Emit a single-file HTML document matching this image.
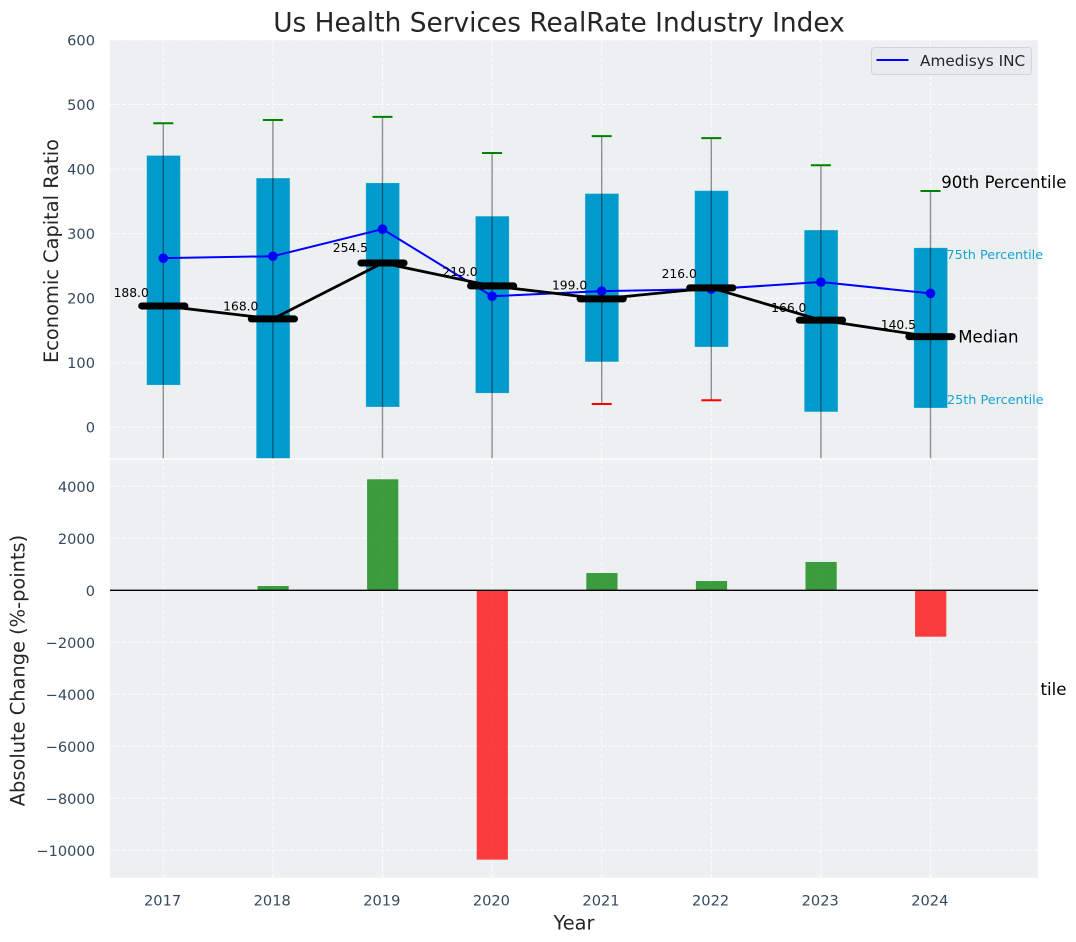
<!DOCTYPE html>
<html lang="en">
<head>
<meta charset="utf-8">
<title>Us Health Services RealRate Industry Index</title>
<style>
html,body{margin:0;padding:0;background:#fff;width:1076px;height:942px;overflow:hidden}
svg{display:block;font-family:"DejaVu Sans","Liberation Sans",sans-serif}
</style>
</head>
<body>
<svg id="chart" xmlns="http://www.w3.org/2000/svg" width="1076" height="942" viewBox="0 0 1076 942">
  <defs>
    <clipPath id="upper-clip"><rect x="110" y="40" width="928" height="418.3"></rect></clipPath>
    <clipPath id="lower-clip"><rect x="110" y="459.7" width="928" height="418"></rect></clipPath>
    <clipPath id="p10-clip"><rect x="1040.5" y="660" width="36" height="60"></rect></clipPath>
  </defs>
</svg>
<script>
const years = [2017, 2018, 2019, 2020, 2021, 2022, 2023, 2024];
const p90 = [471, 476, 481, 425, 451, 448, 406, 366];
const p75 = [421, 386, 378.5, 327, 362, 366.5, 305.5, 278];
const medians = [188, 168, 254.5, 219, 199, 216, 166, 140.5];
const p25 = [65.5, -60, 31.5, 53, 101.5, 124.5, 24, 30];
const p10 = [-180, -250, -210, -230, 36, 42, -240, -420];
const company = [262, 265, 307, 203, 211, 214, 225, 207.5];
const changes = [0, 165, 4270, -10360, 665, 357, 1090, -1785];
const upperTicks = [0, 100, 200, 300, 400, 500, 600];
const lowerTicks = [-10000, -8000, -6000, -4000, -2000, 0, 2000, 4000];

const svg = document.getElementById('chart');
const NS = 'http://www.w3.org/2000/svg';
const PLOT_LEFT = 110, PLOT_RIGHT = 1038;
const UP_TOP = 40, UP_BOTTOM = 458.3, LOW_TOP = 459.7, LOW_BOTTOM = 877.7;
const TICK_COLOR = '#34495e', INK = '#262626';

function xScale(year) { return 163.3 + (year - 2017) * 109.6; }
function yUpper(v) { return 427.3 - v * 0.6455; }
function yLower(v) { return 590.3 - v * 0.026; }

function mk(tag, attrs, parent, text) {
  const el = document.createElementNS(NS, tag);
  for (const k in attrs) el.setAttribute(k, attrs[k]);
  if (text !== undefined) el.textContent = text;
  (parent || svg).appendChild(el);
  return el;
}

const titleEl = mk('text', {x: 559, y: 31.5, 'text-anchor': 'middle', 'font-size': 26.4, fill: INK}, svg, 'Us Health Services RealRate Industry Index');



const upperBg = mk('rect', {x: PLOT_LEFT, y: UP_TOP, width: PLOT_RIGHT - PLOT_LEFT, height: UP_BOTTOM - UP_TOP, fill: '#ecf0f1'});



const gridStyle = {stroke: '#ffffff', 'stroke-width': 1, 'stroke-dasharray': '4 2', 'stroke-opacity': 0.85};

upperTicks.forEach(function (t) {
  const g = mk('line', Object.assign({x1: PLOT_LEFT, x2: PLOT_RIGHT, y1: yUpper(t), y2: yUpper(t)}, gridStyle));
  
  
  const lab = mk('text', {x: 95, y: yUpper(t) + 5.3, 'text-anchor': 'end', 'font-size': 14.6, fill: TICK_COLOR}, svg, String(t));
  
  
});
years.forEach(function (yr) {
  const g = mk('line', Object.assign({x1: xScale(yr), x2: xScale(yr), y1: UP_TOP, y2: UP_BOTTOM}, gridStyle));
  
  
});

const upperGroup = mk('g', {'clip-path': 'url(#upper-clip)'});



years.forEach(function (yr, i) {
  const x = xScale(yr);
  const box = mk('rect', {x: x - 16.6, width: 33.6, y: yUpper(p75[i]), height: yUpper(p25[i]) - yUpper(p75[i]), fill: '#009acd', stroke: '#ffffff', 'stroke-opacity': 0.15, 'stroke-width': 1}, upperGroup);
  
  
  const wh = mk('line', {x1: x, x2: x, y1: yUpper(p90[i]), y2: yUpper(p10[i]), stroke: '#000000', 'stroke-opacity': 0.42, 'stroke-width': 1.4}, upperGroup);
  
  
  const capHi = mk('line', {x1: x - 10, x2: x + 10, y1: yUpper(p90[i]), y2: yUpper(p90[i]), stroke: '#008000', 'stroke-width': 2}, upperGroup);
  
  
  const capLo = mk('line', {x1: x - 10, x2: x + 10, y1: yUpper(p10[i]), y2: yUpper(p10[i]), stroke: '#ff0000', 'stroke-width': 2}, upperGroup);
  
  
});

const companyLine = mk('polyline', {points: years.map(function (yr, i) { return xScale(yr) + ',' + yUpper(company[i]); }).join(' '), fill: 'none', stroke: '#0000ff', 'stroke-width': 2}, upperGroup);


years.forEach(function (yr, i) {
  const dot = mk('circle', {cx: xScale(yr), cy: yUpper(company[i]), r: 4.8, fill: '#0000ff'}, upperGroup);
  
  
});

const medianLine = mk('polyline', {points: years.map(function (yr, i) { return xScale(yr) + ',' + yUpper(medians[i]); }).join(' '), fill: 'none', stroke: '#000000', 'stroke-width': 2.8}, upperGroup);


years.forEach(function (yr, i) {
  const x = xScale(yr);
  const bar = mk('line', {x1: x - 21.6, x2: x + 21.6, y1: yUpper(medians[i]), y2: yUpper(medians[i]), stroke: '#000000', 'stroke-width': 7, 'stroke-linecap': 'round'}, upperGroup);
  
  
});

years.forEach(function (yr, i) {
  const lab = mk('text', {x: xScale(yr) - 14.5, y: yUpper(medians[i] * 1.05) - 3, 'text-anchor': 'end', 'font-size': 12.3, fill: '#000000'}, svg, medians[i].toFixed(1));
  
  
});

const last = years.length - 1;
const lastX = xScale(years[last]);
const label90 = mk('text', {x: lastX + 10.7, y: yUpper(p90[last]) - 3.2, 'font-size': 16.6, fill: '#000000'}, svg, '90th Percentile');


const label75 = mk('text', {x: lastX + 16, y: yUpper(p75[last]) + 11.2, 'font-size': 12.8, fill: '#009acd', 'fill-opacity': 0.9}, svg, '75th Percentile');


const labelMed = mk('text', {x: lastX + 27.7, y: yUpper(medians[last]) + 5.8, 'font-size': 16.6, fill: '#000000'}, svg, 'Median');


const label25 = mk('text', {x: lastX + 16.5, y: yUpper(p25[last]) - 4, 'font-size': 12.8, fill: '#009acd', 'fill-opacity': 0.9}, svg, '25th Percentile');


const label10 = mk('text', {x: lastX + 10.7, y: yUpper(p10[last]) - 3.2, 'font-size': 16.6, fill: '#000000', 'clip-path': 'url(#p10-clip)'}, svg, '10th Percentile');



const legendBox = mk('rect', {x: 871.5, y: 47.5, width: 160, height: 27, rx: 3, fill: '#e9ebf1', stroke: '#d2d4d8', 'stroke-width': 1});


const legendLine = mk('line', {x1: 876.5, x2: 908.5, y1: 60, y2: 60, stroke: '#0000ff', 'stroke-width': 2});


const legendText = mk('text', {x: 920, y: 66, 'font-size': 15.3, fill: INK}, svg, 'Amedisys INC');



const yLabelUp = mk('text', {transform: 'translate(58,251) rotate(-90)', 'text-anchor': 'middle', 'font-size': 19.4, fill: INK}, svg, 'Economic Capital Ratio');



const lowerBg = mk('rect', {x: PLOT_LEFT, y: LOW_TOP, width: PLOT_RIGHT - PLOT_LEFT, height: LOW_BOTTOM - LOW_TOP, fill: '#ecf0f1'});



lowerTicks.forEach(function (t) {
  const g = mk('line', Object.assign({x1: PLOT_LEFT, x2: PLOT_RIGHT, y1: yLower(t), y2: yLower(t)}, gridStyle));
  
  
  const lab = mk('text', {x: 95, y: yLower(t) + 5.8, 'text-anchor': 'end', 'font-size': 14.6, fill: TICK_COLOR}, svg, String(t).replace('-', '\u2212'));
  
  
});
years.forEach(function (yr) {
  const g = mk('line', Object.assign({x1: xScale(yr), x2: xScale(yr), y1: LOW_TOP, y2: LOW_BOTTOM}, gridStyle));
  
  
  const lab = mk('text', {x: xScale(yr) - 0.7, y: 905.3, 'text-anchor': 'middle', 'font-size': 14.6, fill: TICK_COLOR}, svg, String(yr));
  
  
});

const lowerGroup = mk('g', {'clip-path': 'url(#lower-clip)'});


years.forEach(function (yr, i) {
  const v = changes[i];
  const top = Math.min(yLower(v), yLower(0));
  const h = Math.abs(yLower(v) - yLower(0));
  const bar = mk('rect', {x: xScale(yr) - 15.4, width: 31.2, y: top, height: h, fill: v >= 0 ? '#008000' : '#ff0000', 'fill-opacity': 0.75}, lowerGroup);
  
  
});
const zeroLine = mk('line', {x1: PLOT_LEFT, x2: PLOT_RIGHT, y1: yLower(0), y2: yLower(0), stroke: '#000000', 'stroke-width': 1.4}, svg);



const yLabelLow = mk('text', {transform: 'translate(24.5,670.5) rotate(-90)', 'text-anchor': 'middle', 'font-size': 19.4, fill: INK}, svg, 'Absolute Change (%-points)');


const xLabel = mk('text', {x: 574, y: 929.5, 'text-anchor': 'middle', 'font-size': 19.4, fill: INK}, svg, 'Year');


</script>
</body>
</html>
